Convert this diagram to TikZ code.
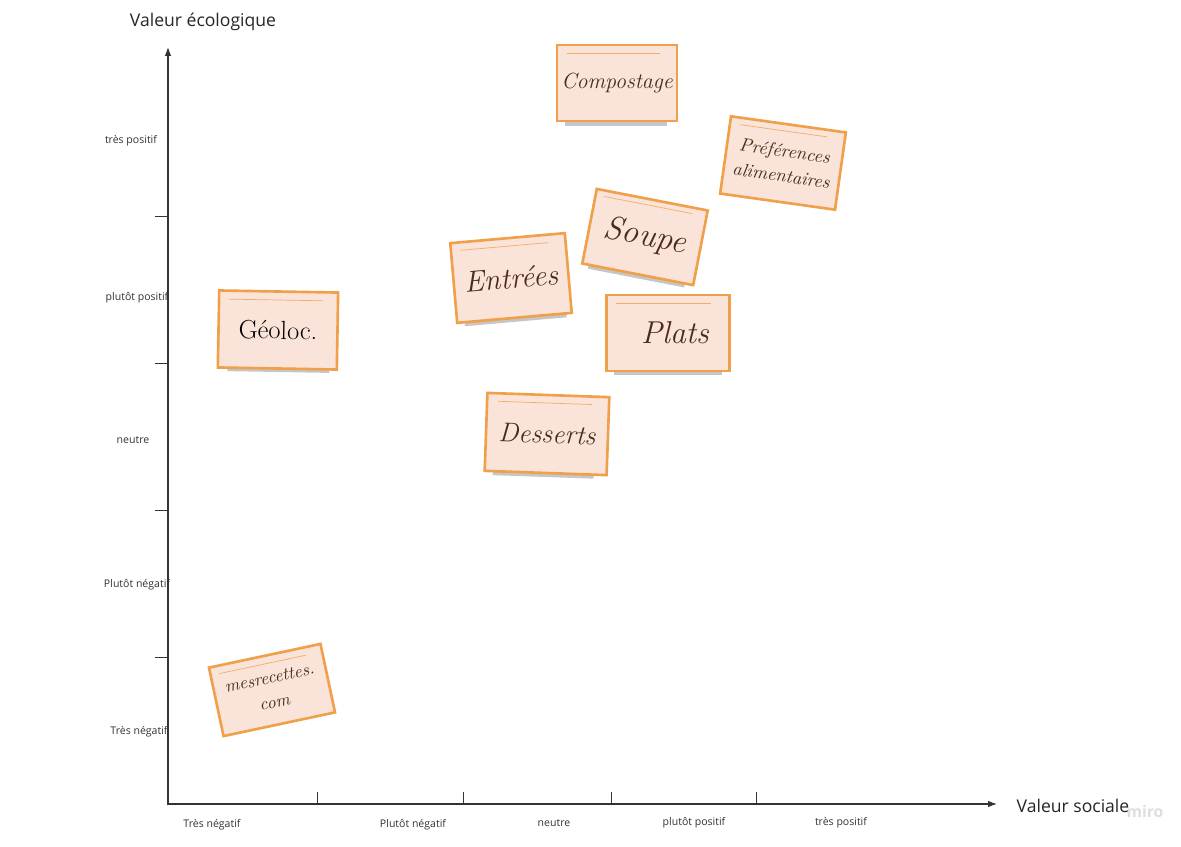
\documentclass[tikz,border=0pt]{standalone}
\usepackage{fontspec}
\setsansfont{Open Sans}
\usetikzlibrary{positioning,arrows.meta}

\definecolor{axisgray}{HTML}{333333}
\definecolor{noteorange}{HTML}{F0A04B}
\definecolor{notefill}{HTML}{FAE3D8}
\definecolor{notetext}{HTML}{4A2A1E}
\definecolor{shadowgray}{HTML}{C6C6C6}

\begin{document}
\begin{tikzpicture}[x=0.02cm, y=-0.02cm,
    axis/.style={draw=axisgray, line width=0.6pt},
    tick/.style={draw=axisgray, line width=0.5pt},
    ticklbl/.style={font=\sffamily\fontsize{6}{7}\selectfont, text=axisgray, inner sep=0pt},
    axislbl/.style={font=\sffamily\fontsize{10}{12}\selectfont, text=black!85, inner sep=0pt},
    note/.style={draw=noteorange, line width=1.5pt, fill=notefill, inner sep=0pt,
                 align=center, text=notetext},
    noteline/.style={draw=noteorange!85, line width=0.4pt},
    noteshadow/.style={fill=shadowgray}
  ]
  \useasboundingbox[fill=white] (0,0) rectangle (1181,846);

  % --- axes ---
  \coordinate (origin) at (168,805);
  \coordinate (ytip) at (168,47);
  \coordinate (xtip) at (997,804);
  \draw[axis, -{Latex[length=5pt,width=3.6pt]}] (origin) -- (ytip);
  \draw[axis, -{Latex[length=5pt,width=3.6pt]}] (origin |- xtip) -- (xtip);
  \foreach \yy in {216,363,510,657}
    \draw[tick] (155,\yy) -- (168,\yy);
  \foreach \xx in {317,463,611,756}
    \draw[tick] (\xx,792) -- (\xx,804);

  \node[font=\sffamily\bfseries\fontsize{9}{10}\selectfont, text=black!13] (miro) at (1145,812) {miro};
  \node[axislbl] (ylbl) at (203,22) {Valeur écologique};
  \node[axislbl] (xlbl) at (1073,806) {Valeur sociale};

  % y labels
  \node[ticklbl] (y5) at (131,141) {très positif};
  \node[ticklbl] (y4) at (137,298) {plutôt positif};
  \node[ticklbl] (y3) at (133,440) {neutre};
  \node[ticklbl] (y2) at (137,585) {Plutôt négatif};
  \node[ticklbl] (y1) at (139,732) {Très négatif};
  % x labels
  \node[ticklbl] (x1) at (212,825) {Très négatif};
  \node[ticklbl] (x2) at (413,825) {Plutôt négatif};
  \node[ticklbl] (x3) at (554,823) {neutre};
  \node[ticklbl] (x4) at (694,823) {plutôt positif};
  \node[ticklbl] (x5) at (841,823) {très positif};

  % --- notes ---
  \begin{scope}[shift={(617,83)}]
    \fill[noteshadow] (-52,36) rectangle (50,43);
    \node[note, minimum width=2.4cm, minimum height=1.52cm,
          font=\itshape\fontsize{12.5}{14}\selectfont] (compost) {Compostage};
    \draw[noteline] (-50,-30) -- (43,-30);
  \end{scope}

  \begin{scope}[shift={(783,163)}, rotate=-8, transform shape]
    \node[note, minimum width=2.32cm, minimum height=1.56cm,
          font=\itshape\fontsize{10.5}{14}\selectfont] (prefs) {Préférences\\alimentaires};
    \draw[noteline] (-48,-32) -- (40,-32);
  \end{scope}

  \begin{scope}[shift={(645,237)}, rotate=-11, transform shape]
    \fill[noteshadow] (-50,35) rectangle (48,42);
    \node[note, minimum width=2.26cm, minimum height=1.52cm,
          font=\itshape\fontsize{19}{21}\selectfont] (soupe) {Soupe};
    \draw[noteline] (-48,-32) -- (42,-32);
  \end{scope}

  \begin{scope}[shift={(511,278)}, rotate=5, transform shape]
    \fill[noteshadow] (-50,37) rectangle (52,44);
    \node[note, minimum width=2.3cm, minimum height=1.6cm,
          font=\itshape\fontsize{17}{19}\selectfont] (entrees) {Entrées};
    \draw[noteline] (-48,-32) -- (40,-32);
  \end{scope}

  \begin{scope}[shift={(668,333)}]
    \fill[noteshadow] (-54,35) rectangle (54,42);
    \node[note, minimum width=2.46cm, minimum height=1.52cm,
          font=\itshape\fontsize{18}{20}\selectfont] (plats) {\hspace*{8pt}Plats};
    \draw[noteline] (-52,-30) -- (43,-30);
  \end{scope}

  \begin{scope}[shift={(547,434)}, rotate=-2, transform shape]
    \fill[noteshadow] (-53,36) rectangle (48,43);
    \node[note, minimum width=2.44cm, minimum height=1.56cm,
          font=\itshape\fontsize{15.5}{17}\selectfont] (desserts) {Desserts};
    \draw[noteline] (-50,-31) -- (44,-31);
  \end{scope}

  \begin{scope}[shift={(278,330)}, rotate=-1, transform shape]
    \fill[noteshadow] (-50,36) rectangle (52,42);
    \node[note, minimum width=2.38cm, minimum height=1.54cm, text=black,
          font=\fontsize{15}{17}\selectfont] (geoloc) {Géoloc.};
    \draw[noteline] (-50,-30) -- (44,-30);
  \end{scope}

  \begin{scope}[shift={(272,690)}, rotate=12, transform shape]
    \node[note, minimum width=2.28cm, minimum height=1.4cm,
          font=\itshape\fontsize{10}{14}\selectfont] (recettes) {mesrecettes.\\com};
    \draw[noteline] (-48,-27) -- (40,-27);
  \end{scope}
\end{tikzpicture}
\end{document}
